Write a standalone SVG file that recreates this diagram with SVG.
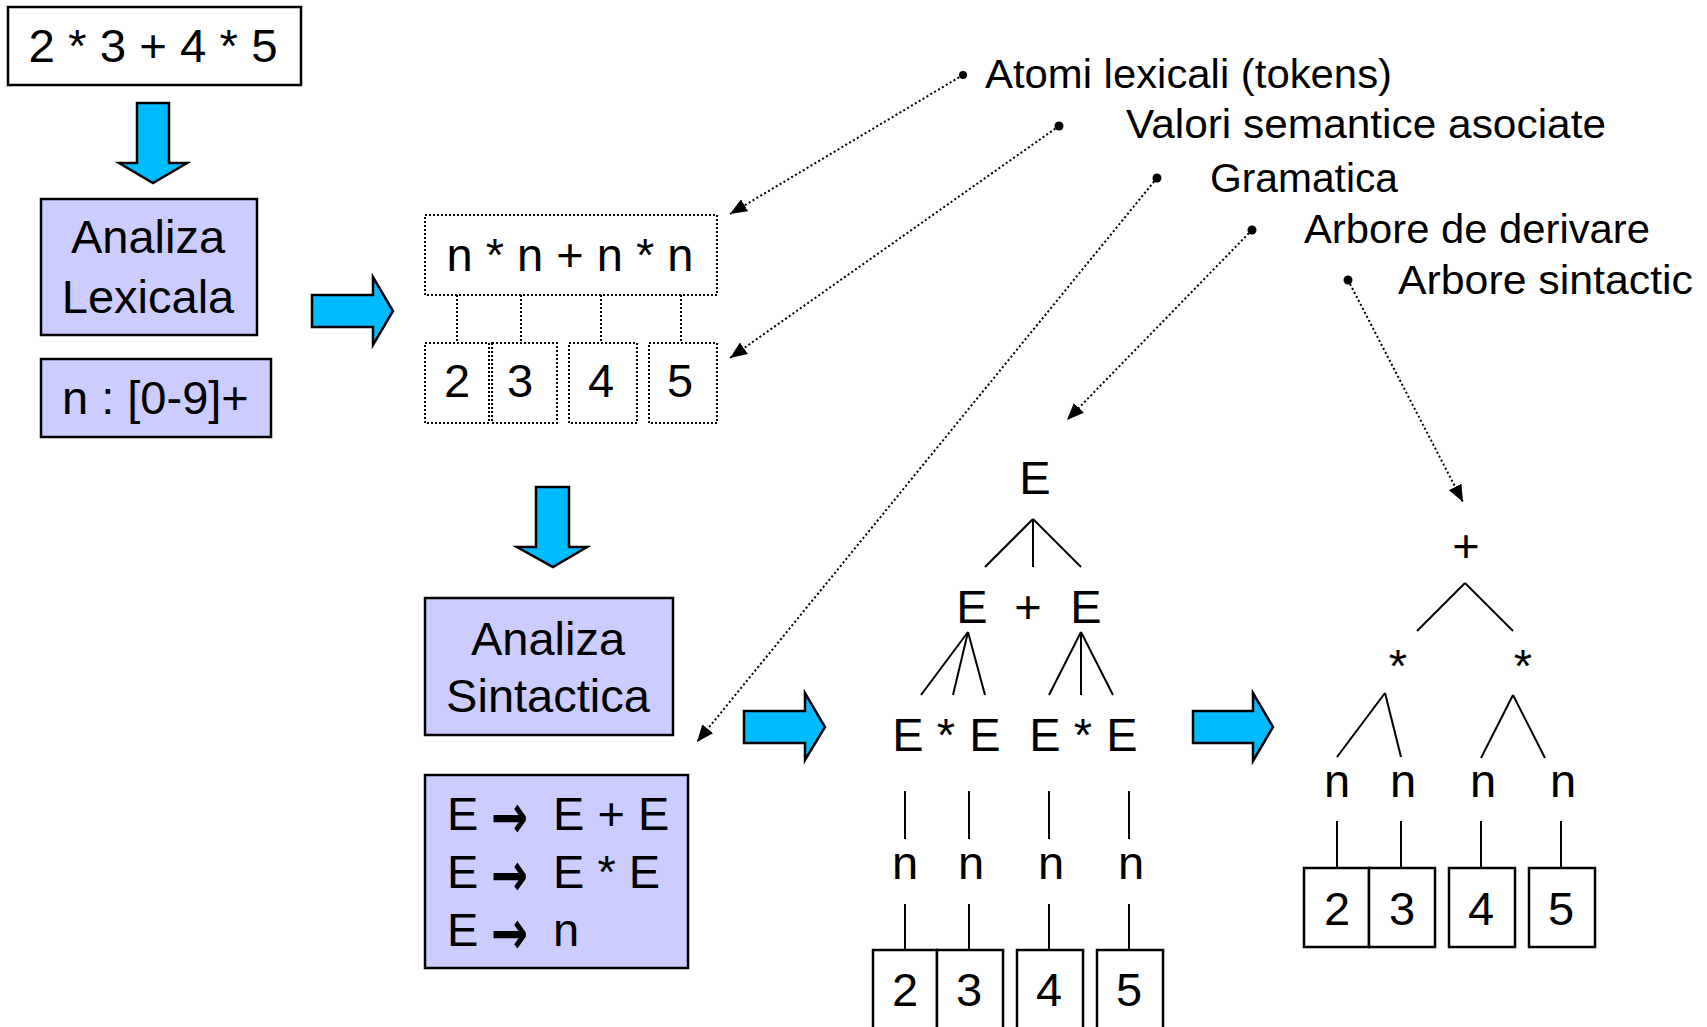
<svg xmlns="http://www.w3.org/2000/svg" width="1707" height="1027" viewBox="0 0 1707 1027">
<defs>
<style>
text{font-family:"Liberation Sans",Arial,sans-serif;fill:#000}
.t47{font-size:47px}
.t46{font-size:47px;text-anchor:middle}
.lbl{font-size:40px}
.mid{text-anchor:middle}
.box{fill:#fff;stroke:#000;stroke-width:2.5}
.proc{fill:#CCCCFF;stroke:#000;stroke-width:2.5}
.dbox{fill:#fff;stroke:#000;stroke-width:2;stroke-dasharray:2 2}
.blue{fill:#00BBFF;stroke:#000;stroke-width:2.5;stroke-linejoin:miter}
.lead{fill:none;stroke:#000;stroke-width:2;stroke-dasharray:2 2.5}
.dv{fill:none;stroke:#000;stroke-width:2;stroke-dasharray:2 2}
.edge{fill:none;stroke:#000;stroke-width:2}
.arr{font-family:"DejaVu Sans",sans-serif;font-size:62px;font-weight:bold}
</style>
<marker id="ah" viewBox="0 0 17 14" refX="17" refY="7" markerWidth="17" markerHeight="14" markerUnits="userSpaceOnUse" orient="auto">
<path d="M0,0 L17,7 L0,14 z" fill="#000"/>
</marker>
</defs>
<rect width="1707" height="1027" fill="#fff"/>

<g id="connectors">
<line class="lead" x1="963" y1="75" x2="730" y2="214" marker-end="url(#ah)"/>
<line class="lead" x1="1059" y1="126" x2="730" y2="358" marker-end="url(#ah)"/>
<line class="lead" x1="1157" y1="178" x2="697" y2="742" marker-end="url(#ah)"/>
<line class="lead" x1="1252" y1="230" x2="1067" y2="420" marker-end="url(#ah)"/>
<line class="lead" x1="1348" y1="280" x2="1463" y2="502" marker-end="url(#ah)"/>
<g id="token-links">
<line class="dv" x1="457" y1="295" x2="457" y2="343"/>
<line class="dv" x1="521" y1="295" x2="521" y2="343"/>
<line class="dv" x1="601" y1="295" x2="601" y2="343"/>
<line class="dv" x1="681" y1="295" x2="681" y2="343"/>
</g>
<g id="deriv-edges">
<line class="edge" x1="1033" y1="519" x2="985" y2="567"/>
<line class="edge" x1="1033" y1="519" x2="1033" y2="567"/>
<line class="edge" x1="1033" y1="519" x2="1081" y2="567"/>
<line class="edge" x1="968" y1="632" x2="921" y2="695"/>
<line class="edge" x1="968" y1="632" x2="953" y2="695"/>
<line class="edge" x1="968" y1="632" x2="985" y2="695"/>
<line class="edge" x1="1081" y1="632" x2="1049" y2="695"/>
<line class="edge" x1="1081" y1="632" x2="1081" y2="695"/>
<line class="edge" x1="1081" y1="632" x2="1113" y2="695"/>
<line class="edge" x1="905" y1="791" x2="905" y2="839"/>
<line class="edge" x1="969" y1="791" x2="969" y2="839"/>
<line class="edge" x1="1049" y1="791" x2="1049" y2="839"/>
<line class="edge" x1="1129" y1="791" x2="1129" y2="839"/>
<line class="edge" x1="905" y1="904" x2="905" y2="950"/>
<line class="edge" x1="969" y1="904" x2="969" y2="950"/>
<line class="edge" x1="1049" y1="904" x2="1049" y2="950"/>
<line class="edge" x1="1129" y1="904" x2="1129" y2="950"/>
</g>
<g id="syntax-edges">
<line class="edge" x1="1465" y1="583" x2="1417" y2="631"/>
<line class="edge" x1="1465" y1="583" x2="1513" y2="631"/>
<line class="edge" x1="1385" y1="693" x2="1337" y2="757"/>
<line class="edge" x1="1385" y1="693" x2="1401" y2="757"/>
<line class="edge" x1="1513" y1="695" x2="1481" y2="758"/>
<line class="edge" x1="1513" y1="695" x2="1545" y2="758"/>
<line class="edge" x1="1337" y1="821" x2="1337" y2="868"/>
<line class="edge" x1="1401" y1="821" x2="1401" y2="868"/>
<line class="edge" x1="1481" y1="821" x2="1481" y2="868"/>
<line class="edge" x1="1561" y1="821" x2="1561" y2="868"/>
</g>
</g>

<g id="input">
<rect class="box" x="8" y="7" width="293" height="78"/>
<text class="t47 mid" x="153" y="62" textLength="249" lengthAdjust="spacingAndGlyphs">2 * 3 + 4 * 5</text>
</g>
<g id="arrow-down-1"><polygon class="blue" points="137,103 169,103 169,163 187,163 153,183 119,163 137,163"/></g>
<g id="analiza-lexicala">
<rect class="proc" x="41" y="199" width="216" height="136"/>
<text class="t47 mid" x="148" y="253">Analiza</text>
<text class="t47 mid" x="148" y="313">Lexicala</text>
</g>
<g id="lex-rule">
<rect class="proc" x="41" y="359" width="230" height="78"/>
<text class="t47" x="62" y="414">n : [0-9]+</text>
</g>
<g id="arrow-right-1"><polygon class="blue" points="312,295 373,295 373,277 393,311 373,345 373,327 312,327"/></g>

<g id="tokens">
<rect class="dbox" x="425" y="215" width="292" height="80"/>
<text class="t47 mid" x="570" y="271">n * n + n * n</text>
</g>
<g id="values">
<rect class="dbox" x="425" y="343" width="64" height="80"/>
<rect class="dbox" x="492" y="343" width="65" height="80"/>
<rect class="dbox" x="569" y="343" width="68" height="80"/>
<rect class="dbox" x="649" y="343" width="68" height="80"/>
<text class="t47 mid" x="457" y="397">2</text>
<text class="t47 mid" x="520" y="397">3</text>
<text class="t47 mid" x="601" y="397">4</text>
<text class="t47 mid" x="680" y="397">5</text>
</g>
<g id="arrow-down-2"><polygon class="blue" points="536,487 569,487 569,547 587,547 553,567 517,547 536,547"/></g>
<g id="analiza-sintactica">
<rect class="proc" x="425" y="598" width="248" height="137"/>
<text class="t47 mid" x="548" y="655">Analiza</text>
<text class="t47 mid" x="548" y="712">Sintactica</text>
</g>
<g id="grammar">
<rect class="proc" x="425" y="775" width="263" height="193"/>
<text class="t47" x="447" y="830">E</text>
<text class="arr" x="491" y="838" textLength="37" lengthAdjust="spacingAndGlyphs">→</text>
<text class="t47" x="553" y="830">E + E</text>
<text class="t47" x="447" y="888">E</text>
<text class="arr" x="491" y="896" textLength="37" lengthAdjust="spacingAndGlyphs">→</text>
<text class="t47" x="553" y="888">E * E</text>
<text class="t47" x="447" y="946">E</text>
<text class="arr" x="491" y="954" textLength="37" lengthAdjust="spacingAndGlyphs">→</text>
<text class="t47" x="553" y="946">n</text>
</g>
<g id="arrow-right-2"><polygon class="blue" points="744,711 805,711 805,693 825,727 805,760 805,743 744,743"/></g>
<g id="arrow-right-3"><polygon class="blue" points="1193,711 1253,711 1253,693 1273,727 1253,761 1253,743 1193,743"/></g>

<g id="legend">
<circle cx="963" cy="75" r="4"/>
<text class="lbl" x="985" y="88" textLength="407" lengthAdjust="spacingAndGlyphs">Atomi lexicali (tokens)</text>
<circle cx="1059" cy="126" r="4.5"/>
<text class="lbl" x="1126" y="138" textLength="480" lengthAdjust="spacingAndGlyphs">Valori semantice asociate</text>
<circle cx="1157" cy="178" r="4.5"/>
<text class="lbl" x="1210" y="192" textLength="188" lengthAdjust="spacingAndGlyphs">Gramatica</text>
<circle cx="1252" cy="230" r="4.5"/>
<text class="lbl" x="1304" y="243" textLength="346" lengthAdjust="spacingAndGlyphs">Arbore de derivare</text>
<circle cx="1348" cy="280" r="4.5"/>
<text class="lbl" x="1398" y="294" textLength="295" lengthAdjust="spacingAndGlyphs">Arbore sintactic</text>
</g>

<g id="derivation-tree">
<text class="t46" x="1035" y="494">E</text>
<text class="t46" x="972" y="623">E</text>
<text class="t46" x="1028" y="623">+</text>
<text class="t46" x="1086" y="623">E</text>
<text class="t46" x="908" y="751">E</text>
<text class="t46" x="946" y="751">*</text>
<text class="t46" x="985" y="751">E</text>
<text class="t46" x="1045" y="751">E</text>
<text class="t46" x="1083" y="751">*</text>
<text class="t46" x="1122" y="751">E</text>
<text class="t46" x="905" y="879">n</text>
<text class="t46" x="971" y="879">n</text>
<text class="t46" x="1051" y="879">n</text>
<text class="t46" x="1131" y="879">n</text>
<rect class="box" x="873" y="950" width="64" height="90"/>
<rect class="box" x="937" y="950" width="66" height="90"/>
<rect class="box" x="1017" y="950" width="66" height="90"/>
<rect class="box" x="1097" y="950" width="66" height="90"/>
<text class="t46" x="905" y="1006">2</text>
<text class="t46" x="969" y="1006">3</text>
<text class="t46" x="1049" y="1006">4</text>
<text class="t46" x="1129" y="1006">5</text>
</g>

<g id="syntax-tree">
<text class="t46" x="1466" y="562">+</text>
<text class="t46" x="1398" y="682">*</text>
<text class="t46" x="1523" y="682">*</text>
<text class="t46" x="1337" y="797">n</text>
<text class="t46" x="1403" y="797">n</text>
<text class="t46" x="1483" y="797">n</text>
<text class="t46" x="1563" y="797">n</text>
<rect class="box" x="1304" y="868" width="65" height="79"/>
<rect class="box" x="1369" y="868" width="66" height="79"/>
<rect class="box" x="1449" y="868" width="66" height="79"/>
<rect class="box" x="1529" y="868" width="66" height="79"/>
<text class="t46" x="1337" y="925">2</text>
<text class="t46" x="1402" y="925">3</text>
<text class="t46" x="1481" y="925">4</text>
<text class="t46" x="1561" y="925">5</text>
</g>
</svg>
